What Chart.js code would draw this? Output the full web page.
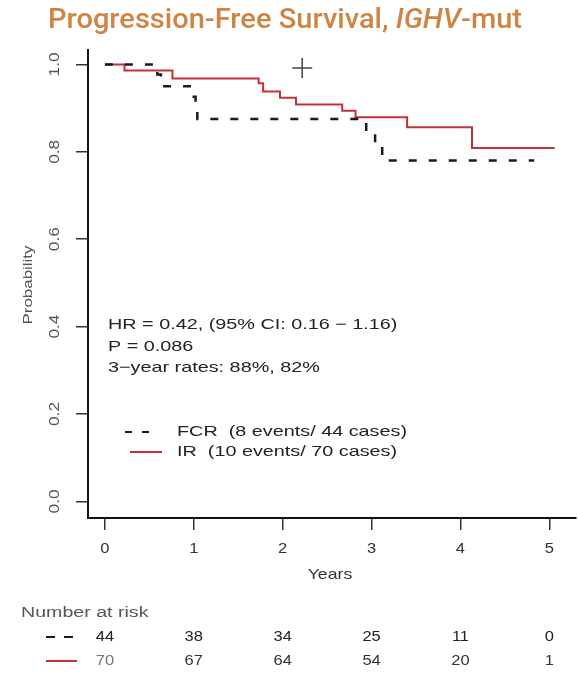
<!doctype html>
<html>
<head>
    <title>Progression-Free Survival, IGHV-mut</title>
    <script src="https://cdn.jsdelivr.net/npm/chart.js@4/dist/chart.umd.min.js"></script>
    <style>
    body{
        margin: 0;
        background: #fff;
        font-family: "Liberation Sans", Arial, sans-serif;
    }
    </style>
</head>
<body>
    <canvas id="km" width="578" height="674"></canvas>
    <script>
    // Kaplan-Meier curves (time in years, survival after each drop)
    var fcrTimes = [0, 0.59, 0.63, 1.00, 1.02, 1.04, 2.94, 3.04, 3.12, 4.83];
    var fcrSurv  = [1, 0.977, 0.950, 0.926, 0.901, 0.875, 0.845, 0.812, 0.780, 0.780];
    var irTimes  = [0, 0.22, 0.76, 1.73, 1.78, 1.97, 2.15, 2.67, 2.82, 3.40, 4.13, 5.06];
    var irSurv   = [1, 0.986, 0.968, 0.957, 0.938, 0.924, 0.908, 0.894, 0.879, 0.856, 0.809, 0.809];
    // stray cursor mark in the scan
    var markX = [2.22];
    var markY = [0.992];

    var xTicks = [0, 1, 2, 3, 4, 5];
    var yTicks = [0, 0.2, 0.4, 0.6, 0.8, 1.0];
    var riskTimes = [0, 1, 2, 3, 4, 5];
    var riskFCR = [44, 38, 34, 25, 11, 0];
    var riskIR  = [70, 67, 64, 54, 20, 1];

    var statLines = ['HR = 0.42, (95% CI: 0.16 \u2212 1.16)', 'P = 0.086', '3\u2212year rates: 88%, 82%'];
    var legendLabels = ['FCR  (8 events/ 44 cases)', 'IR  (10 events/ 70 cases)'];

    var RED = '#c3303a';
    var DARK = '#1a1a1a';
    var FONT = '"Liberation Sans", Arial, sans-serif';

    function pts(xs, ys){
        return xs.map(function(x, i){ return {x: x, y: ys[i]}; });
    }

    // text drawn a bit wider than the font, the scan is stretched
    function wideText(ctx, txt, x, y, sx, align){
        var w = ctx.measureText(txt).width * sx;
        var left = align === 'center' ? x - w / 2 : x;
        ctx.save();
        ctx.textAlign = 'left';
        ctx.translate(left, y);
        ctx.scale(sx, 1);
        ctx.fillText(txt, 0, 0);
        ctx.restore();
    }

    var textPlugin = {
        id: 'kmText',
        afterDraw: function(chart){
            var ctx = chart.ctx;
            var xs = chart.scales.x, ys = chart.scales.y;
            ctx.save();
            ctx.textBaseline = 'middle';

            // title with italic gene name
            var parts = [['Progression-Free Survival, ', ''], ['IGHV', 'italic '], ['-mut', '']];
            var tw = 0;
            parts.forEach(function(p){
                ctx.font = p[1] + '500 27px Roboto, sans-serif';
                tw += ctx.measureText(p[0]).width;
            });
            var sx = 474 / tw;
            ctx.fillStyle = '#cf8441';
            ctx.save();
            ctx.translate(285 - 237, 21);
            ctx.scale(sx, 1);
            var tx = 0;
            parts.forEach(function(p){
                ctx.font = p[1] + '500 27px Roboto, sans-serif';
                ctx.fillText(p[0], tx, 0);
                tx += ctx.measureText(p[0]).width;
            });
            ctx.restore();

            // y tick labels, rotated like base R
            ctx.fillStyle = '#555';
            ctx.font = '15px ' + FONT;
            yTicks.forEach(function(v){
                ctx.save();
                ctx.translate(55, ys.getPixelForValue(v));
                ctx.rotate(-Math.PI / 2);
                wideText(ctx, v.toFixed(1), 0, 0, 1.15, 'center');
                ctx.restore();
            });
            ctx.save();
            ctx.translate(28, 285);
            ctx.rotate(-Math.PI / 2);
            ctx.font = '13px ' + FONT;
            wideText(ctx, 'Probability', 0, 0, 1.3, 'center');
            ctx.restore();

            // x tick labels
            ctx.fillStyle = '#333';
            ctx.font = '15px ' + FONT;
            xTicks.forEach(function(v){
                wideText(ctx, String(v), xs.getPixelForValue(v), 549, 1.1, 'center');
            });
            ctx.font = '15px ' + FONT;
            wideText(ctx, 'Years', 330, 575, 1.18, 'center');

            // stats
            ctx.fillStyle = '#222';
            ctx.font = '15px ' + FONT;
            [325, 347, 368].forEach(function(y, i){
                wideText(ctx, statLines[i], 108, y, 1.32, 'left');
            });

            // legend
            ctx.lineWidth = 2;
            ctx.strokeStyle = DARK;
            ctx.setLineDash([7, 10]);
            ctx.beginPath(); ctx.moveTo(125, 432); ctx.lineTo(152, 432); ctx.stroke();
            ctx.setLineDash([]);
            ctx.strokeStyle = RED;
            ctx.beginPath(); ctx.moveTo(130, 452); ctx.lineTo(162, 452); ctx.stroke();
            wideText(ctx, legendLabels[0], 177, 432, 1.32, 'left');
            wideText(ctx, legendLabels[1], 177, 452, 1.32, 'left');

            // number at risk
            ctx.fillStyle = '#555';
            ctx.font = '14px ' + FONT;
            wideText(ctx, 'Number at risk', 21, 613, 1.4, 'left');
            ctx.strokeStyle = DARK;
            ctx.setLineDash([9, 9]);
            ctx.beginPath(); ctx.moveTo(46, 637); ctx.lineTo(76, 637); ctx.stroke();
            ctx.setLineDash([]);
            ctx.strokeStyle = RED;
            ctx.beginPath(); ctx.moveTo(46, 661); ctx.lineTo(77, 661); ctx.stroke();
            ctx.font = '15px ' + FONT;
            riskTimes.forEach(function(t, i){
                var px = xs.getPixelForValue(t);
                ctx.fillStyle = '#222';
                wideText(ctx, String(riskFCR[i]), px, 637, 1.1, 'center');
                ctx.fillStyle = i === 0 ? '#777' : '#333';
                wideText(ctx, String(riskIR[i]), px, 661, 1.1, 'center');
            });
            ctx.restore();
        }
    };

    var config = {
        type: 'line',
        data: {
            datasets: [{
                label: 'FCR',
                data: pts(fcrTimes, fcrSurv),
                borderColor: DARK,
                borderWidth: 2.5,
                borderDash: [8, 12],
                stepped: 'before',
                pointRadius: 0,
                fill: false
            }, {
                label: 'IR',
                data: pts(irTimes, irSurv),
                borderColor: RED,
                borderWidth: 2,
                stepped: 'before',
                pointRadius: 0,
                fill: false
            }, {
                label: 'mark',
                type: 'scatter',
                data: pts(markX, markY),
                pointStyle: 'cross',
                pointRadius: 10,
                borderColor: '#444',
                borderWidth: 1.5,
                showLine: false
            }]
        },
        options: {
            responsive: false,
            animation: false,
            layout: {
                autoPadding: false,
                padding: {left: 76, right: 2, top: 50, bottom: 144}
            },
            plugins: {
                legend: {display: false},
                tooltip: {enabled: false},
                title: {display: false}
            },
            scales: {
                x: {
                    type: 'linear',
                    min: -0.19,
                    max: 5.30,
                    afterBuildTicks: function(scale){
                        scale.ticks = xTicks.map(function(v){ return {value: v}; });
                    },
                    ticks: {display: false},
                    grid: {drawOnChartArea: false, drawTicks: true, tickLength: 12, color: '#333', lineWidth: 1.5},
                    border: {display: true, color: '#111', width: 2}
                },
                y: {
                    type: 'linear',
                    min: -0.038,
                    max: 1.033,
                    afterBuildTicks: function(scale){
                        scale.ticks = yTicks.map(function(v){ return {value: v}; });
                    },
                    ticks: {display: false},
                    grid: {drawOnChartArea: false, drawTicks: true, tickLength: 12, color: '#333', lineWidth: 1.5},
                    border: {display: true, color: '#111', width: 2}
                }
            }
        },
        plugins: [textPlugin]
    };

    window.onload = function() {
        var ctx = document.getElementById('km').getContext('2d');
        window.kmChart = new Chart(ctx, config);
    };
    </script>
</body>
</html>
